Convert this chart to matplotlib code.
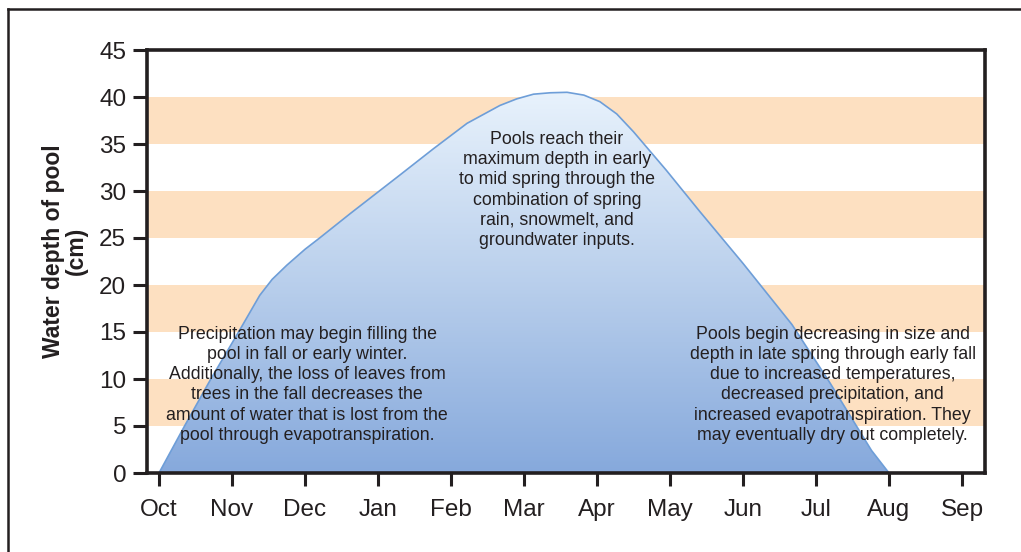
import numpy as np
import matplotlib
matplotlib.use("Agg")
import matplotlib.pyplot as plt
from matplotlib.patches import Polygon
from matplotlib.lines import Line2D
from matplotlib.colors import LinearSegmentedColormap

plt.rcParams['font.family'] = ['Liberation Sans', 'DejaVu Sans']

months = ["Oct", "Nov", "Dec", "Jan", "Feb", "Mar", "Apr", "May", "Jun", "Jul", "Aug", "Sep"]

# curve (x = months since Oct, y = depth cm)
pos = [0.0, 0.35, 0.71, 1.09, 1.38, 1.55, 1.75, 2.0, 2.2, 2.62, 3.30, 3.76, 4.22, 4.67,
       4.9, 5.13, 5.36, 5.59, 5.82, 6.04, 6.27, 6.50, 6.95, 7.41, 8.0, 8.67, 9.19, 9.76, 10.0]
depth = [0.0, 5.0, 10.0, 15.0, 18.9, 20.6, 22.1, 23.8, 25.0, 27.6, 31.7, 34.5, 37.2, 39.1,
         39.8, 40.3, 40.45, 40.5, 40.2, 39.5, 38.2, 36.3, 32.2, 27.8, 22.3, 15.8, 9.6, 2.4, 0.0]

bands = [(5, 10), (15, 20), (25, 30), (35, 40)]

notes = [
    (2.03, 9.4, "Precipitation may begin filling the\npool in fall or early winter.\n"
                "Additionally, the loss of leaves from\ntrees in the fall decreases the\n"
                "amount of water that is lost from the\npool through evapotranspiration."),
    (5.45, 30.1, "Pools reach their\nmaximum depth in early\nto mid spring through the\n"
                 "combination of spring\nrain, snowmelt, and\ngroundwater inputs."),
    (9.23, 9.4, "Pools begin decreasing in size and\ndepth in late spring through early fall\n"
                "due to increased temperatures,\ndecreased precipitation, and\n"
                "increased evapotranspiration. They\nmay eventually dry out completely."),
]

ink = "#231F20"

fig = plt.figure(figsize=(10.21, 5.52), dpi=100)
ax = fig.add_axes([147/1021, 79/552, (985-147)/1021, (502-79)/552])

x0, x1 = -12/73, (985-159)/73

for lo, hi in bands:
    ax.axhspan(lo, hi, color="#FDE0C1", lw=0, zorder=0)

# gradient fill under the curve
cmap = LinearSegmentedColormap.from_list("pool", ["#86A9DC", "#B9CFEC", "#E8F2FC"])
grad = np.linspace(0, 1, 256).reshape(-1, 1)
im = ax.imshow(grad, cmap=cmap, origin="lower", aspect="auto",
               extent=[x0, x1, 0, max(depth)], zorder=1)
poly = Polygon(list(zip(pos, depth)) + [(pos[-1], 0), (pos[0], 0)], closed=True,
               facecolor="none", edgecolor="none", transform=ax.transData)
ax.add_patch(poly)
im.set_clip_path(poly)
ax.plot(pos, depth, color="#6E9ED8", lw=1.2, zorder=2)
ax.set_xlim(x0, x1)
ax.set_ylim(0, 45)

for x, y, s in notes:
    ax.text(x, y, s, ha="center", va="center", fontsize=12.8, color=ink,
            linespacing=1.25, zorder=3)

ax.set_xticks(range(len(months)))
ax.set_xticklabels(months)
ax.set_yticks(range(0, 46, 5))
ax.tick_params(axis="x", length=9, width=2.2, color=ink, labelsize=17.5, labelcolor=ink, pad=10)
ax.tick_params(axis="y", length=10, width=2.2, color=ink, labelsize=17.5, labelcolor=ink, pad=5)
for sp in ax.spines.values():
    sp.set_linewidth(2.6)
    sp.set_color(ink)
    sp.set_zorder(5)

ax.set_ylabel("Water depth of pool\n(cm)", fontsize=16.5, fontweight="bold", color=ink,
              linespacing=1.0)
ax.yaxis.set_label_coords(-0.0704, 0.525)

# outer frame (only top and left edges are inside the picture)
fig.add_artist(Line2D([8/1021, 1], [1 - 9/552, 1 - 9/552], transform=fig.transFigure,
                      color=ink, lw=1.8))
fig.add_artist(Line2D([8/1021, 8/1021], [0, 1 - 9/552], transform=fig.transFigure,
                      color=ink, lw=1.8))

fig.savefig("out.png", dpi=100)
